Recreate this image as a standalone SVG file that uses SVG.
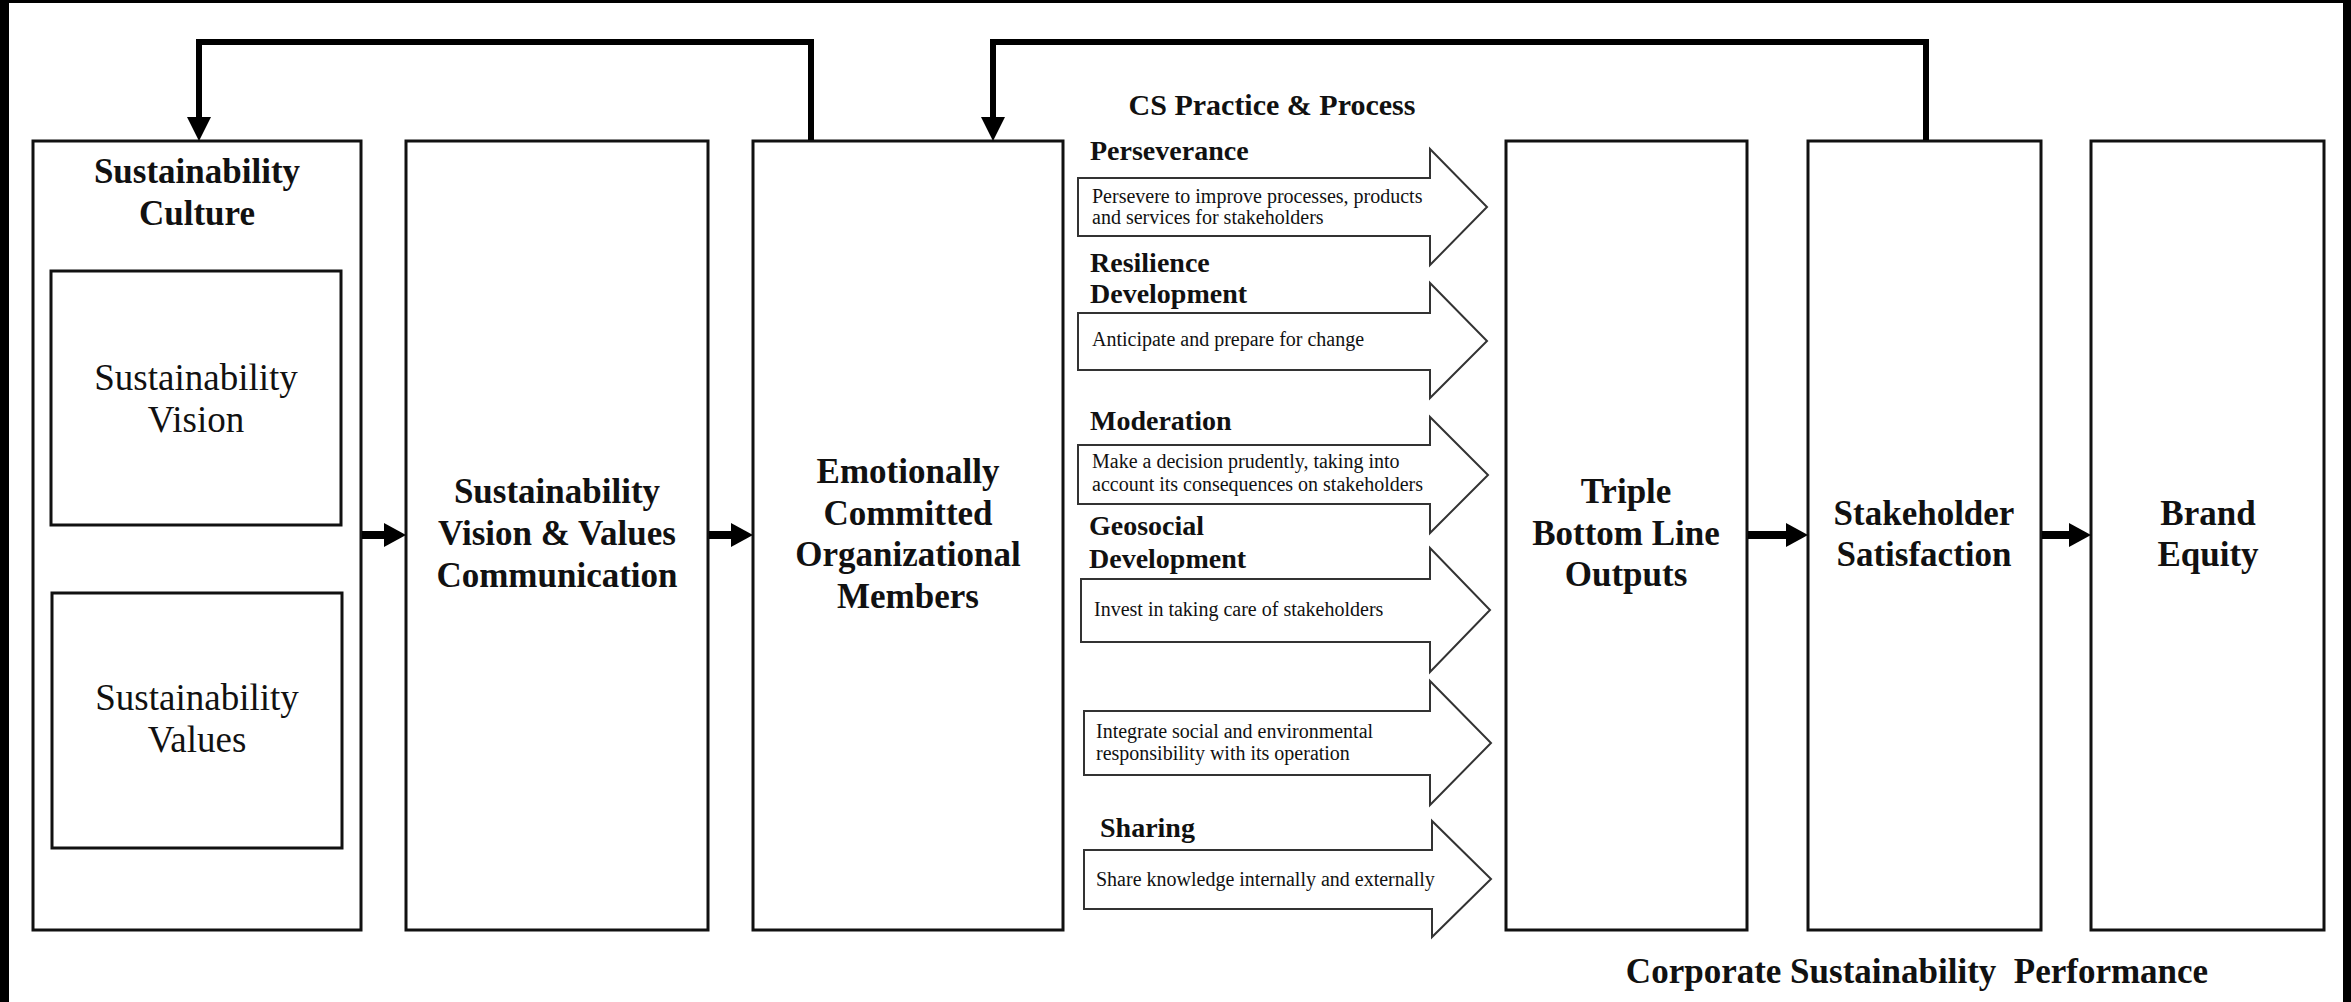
<svg xmlns="http://www.w3.org/2000/svg" width="2351" height="1002" viewBox="0 0 2351 1002">
<defs>
<style>
.box{fill:#fff;stroke:#111;stroke-width:3}
.blk{fill:#fff;stroke:#333;stroke-width:2;stroke-linejoin:miter}
.fb{fill:none;stroke:#000;stroke-width:6}
.ha{fill:none;stroke:#000;stroke-width:8}
.t{font-family:"Liberation Serif","Times New Roman",serif;fill:#111}
.tb{font-family:"Liberation Serif","Times New Roman",serif;font-weight:bold;fill:#111;font-size:35px}
.tr{font-family:"Liberation Serif","Times New Roman",serif;fill:#111;font-size:37px}
.lab{font-family:"Liberation Serif","Times New Roman",serif;font-weight:bold;fill:#111;font-size:28px}
.sm{font-family:"Liberation Serif","Times New Roman",serif;fill:#111;font-size:20px}
.c{text-anchor:middle}
</style>
<marker id="mfb" viewBox="0 0 24 24" markerWidth="24" markerHeight="24" refX="12" refY="12" orient="auto" markerUnits="userSpaceOnUse"><path d="M0,0 L24,12 L0,24 Z" fill="#000"/></marker>
<marker id="mha" viewBox="0 0 22 24" markerWidth="22" markerHeight="24" refX="11" refY="12" orient="auto" markerUnits="userSpaceOnUse"><path d="M0,0 L22,12 L0,24 Z" fill="#000"/></marker>
</defs>
<rect x="0" y="0" width="2351" height="1002" fill="#fff"/>
<rect x="0" y="0" width="9" height="1002" fill="#000"/>
<rect x="0" y="0" width="2351" height="3" fill="#000"/>
<rect x="2343" y="0" width="8" height="1002" fill="#000"/>

<g id="culture">
<rect class="box" x="33" y="141" width="328" height="789"/>
<text class="tb c" x="197" y="183" font-size="36">Sustainability</text>
<text class="tb c" x="197" y="225" font-size="36">Culture</text>
</g>
<g id="vision">
<rect class="box" x="51" y="271" width="290" height="254"/>
<text class="tr c" x="196" y="390">Sustainability</text>
<text class="tr c" x="196" y="432">Vision</text>
</g>
<g id="values">
<rect class="box" x="52" y="593" width="290" height="255"/>
<text class="tr c" x="197" y="710">Sustainability</text>
<text class="tr c" x="197" y="752">Values</text>
</g>
<g id="communication">
<rect class="box" x="406" y="141" width="302" height="789"/>
<text class="tb c" x="557" y="503">Sustainability</text>
<text class="tb c" x="557" y="545">Vision &amp; Values</text>
<text class="tb c" x="557" y="587">Communication</text>
</g>
<g id="members">
<rect class="box" x="753" y="141" width="310" height="789"/>
<text class="tb c" x="908" y="483">Emotionally</text>
<text class="tb c" x="908" y="525">Committed</text>
<text class="tb c" x="908" y="566">Organizational</text>
<text class="tb c" x="908" y="608">Members</text>
</g>
<g id="cs-practice">
<text class="t c" x="1272" y="115" font-weight="bold" font-size="30">CS Practice &amp; Process</text>
<g id="perseverance">
<polygon class="blk" points="1078,178 1430,178 1430,149 1487,207 1430,265 1430,236 1078,236"/>
<text class="lab" x="1090" y="160">Perseverance</text>
<text class="sm" x="1092" y="203">Persevere to improve processes, products</text>
<text class="sm" x="1092" y="224">and services for stakeholders</text>
</g>
<g id="resilience">
<polygon class="blk" points="1078,313 1430,313 1430,283 1487,341 1430,398 1430,370 1078,370"/>
<text class="lab" x="1090" y="272">Resilience</text>
<text class="lab" x="1090" y="303">Development</text>
<text class="sm" x="1092" y="346">Anticipate and prepare for change</text>
</g>
<g id="moderation">
<polygon class="blk" points="1078,445 1430,445 1430,417 1488,475 1430,533 1430,504 1078,504"/>
<text class="lab" x="1090" y="430">Moderation</text>
<text class="sm" x="1092" y="468">Make a decision prudently, taking into</text>
<text class="sm" x="1092" y="491">account its consequences on stakeholders</text>
</g>
<g id="geosocial">
<polygon class="blk" points="1081,579 1430,579 1430,548 1490,610 1430,672 1430,642 1081,642"/>
<text class="lab" x="1089" y="535">Geosocial</text>
<text class="lab" x="1089" y="568">Development</text>
<text class="sm" x="1094" y="616">Invest in taking care of stakeholders</text>
</g>
<g id="integrate">
<polygon class="blk" points="1084,711 1430,711 1430,681 1491,743 1430,805 1430,775 1084,775"/>
<text class="sm" x="1096" y="738">Integrate social and environmental</text>
<text class="sm" x="1096" y="760">responsibility with its operation</text>
</g>
<g id="sharing">
<polygon class="blk" points="1084,850 1432,850 1432,821 1491,879 1432,937 1432,909 1084,909"/>
<text class="lab" x="1100" y="837">Sharing</text>
<text class="sm" x="1096" y="886">Share knowledge internally and externally</text>
</g>
</g>
<g id="tbl">
<rect class="box" x="1506" y="141" width="241" height="789"/>
<text class="tb c" x="1626" y="503">Triple</text>
<text class="tb c" x="1626" y="545">Bottom Line</text>
<text class="tb c" x="1626" y="586">Outputs</text>
</g>
<g id="stakeholder">
<rect class="box" x="1808" y="141" width="233" height="789"/>
<text class="tb c" x="1924" y="525">Stakeholder</text>
<text class="tb c" x="1924" y="566">Satisfaction</text>
</g>
<g id="brand">
<rect class="box" x="2091" y="141" width="233" height="789"/>
<text class="tb c" x="2208" y="525">Brand</text>
<text class="tb c" x="2208" y="566">Equity</text>
</g>
<text class="tb c" x="1917" y="983" xml:space="preserve">Corporate Sustainability  Performance</text>

<g id="connectors">
<path class="fb" d="M811,140 V42 H199 V129" marker-end="url(#mfb)"/>
<path class="fb" d="M1926,140 V42 H993 V129" marker-end="url(#mfb)"/>
<line class="ha" x1="362" y1="535" x2="395" y2="535" marker-end="url(#mha)"/>
<line class="ha" x1="709" y1="535" x2="742" y2="535" marker-end="url(#mha)"/>
<line class="ha" x1="1748" y1="535" x2="1797" y2="535" marker-end="url(#mha)"/>
<line class="ha" x1="2042" y1="535" x2="2080" y2="535" marker-end="url(#mha)"/>
</g>
</svg>
